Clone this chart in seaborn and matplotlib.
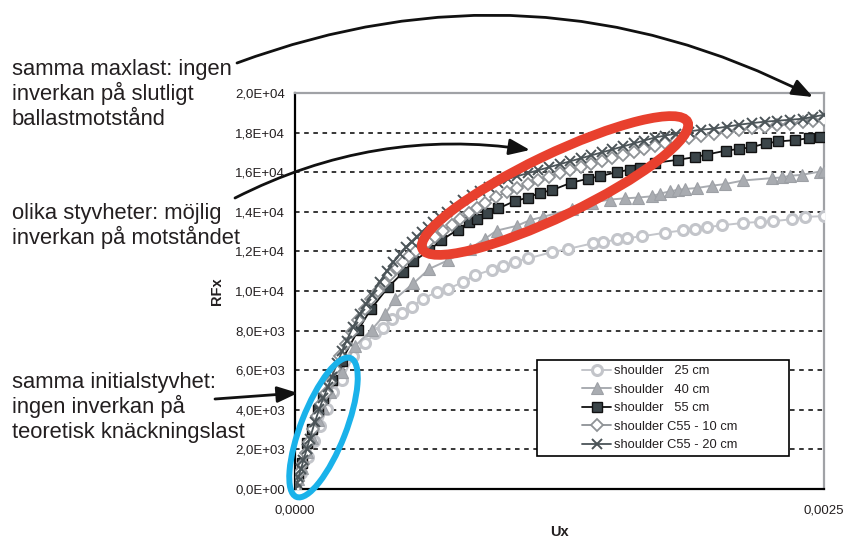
import numpy as np
import pandas as pd
import matplotlib
matplotlib.use("Agg")
import matplotlib.pyplot as plt
import seaborn as sns
from matplotlib.patches import Ellipse, Rectangle, FancyArrowPatch
from matplotlib.ticker import FuncFormatter, MultipleLocator, FixedLocator

# ---------------- data (Ux in units of 1e-4, RFx) ----------------
ux25_e4 = [0, 0.3, 0.6, 0.9, 1.2, 1.5, 1.81, 2.21, 2.76, 3.30, 3.78, 4.17, 4.57, 5.04, 5.51,
           6.03, 6.71, 7.25, 7.96, 8.51, 9.30, 9.85, 10.40, 11.03, 12.13, 12.92, 14.10, 14.57,
           15.20, 15.68, 16.38, 17.49, 18.35, 18.90, 19.46, 20.17, 21.19, 21.98, 22.60, 23.47,
           24.10, 25.0]
rf25 = [0, 800, 1600, 2400, 3200, 4050, 4917, 5500, 6732, 7350, 7860, 8120, 8570, 8910, 9170,
        9612, 9949, 10119, 10460, 10800, 11073, 11277, 11481, 11651, 11957, 12128, 12417, 12468,
        12604, 12672, 12757, 12945, 13064, 13149, 13217, 13319, 13438, 13489, 13523, 13626,
        13745, 13779]

ux40_e4 = [0, 0.158, 0.315, 0.551, 0.788, 1.10, 1.34, 1.65, 2.21, 2.84, 3.62, 4.25, 4.73, 5.59,
           6.35, 7.25, 8.27, 8.98, 9.53, 10.48, 11.11, 11.74, 13.08, 14.02, 14.89, 15.60, 16.23,
           16.86, 17.25, 17.72, 18.12, 18.43, 18.98, 19.69, 20.32, 21.19, 22.53, 23.00, 23.39,
           23.95, 24.81, 25.0]
rf40 = [0, 500, 1050, 1850, 2600, 3500, 4100, 4917, 5917, 7220, 8035, 8817, 9600, 10380, 11120,
        11560, 12135, 12640, 13050, 13290, 13580, 13750, 14133, 14460, 14620, 14680, 14720,
        14783, 14917, 15033, 15117, 15150, 15200, 15317, 15400, 15583, 15700, 15733, 15817,
        15867, 16033, 16050]

ux55_e4 = [0, 0.158, 0.315, 0.551, 0.788, 1.10, 1.34, 1.75, 2.21, 2.99, 3.58, 4.41, 5.12, 5.59,
           6.35, 6.90, 7.69, 8.24, 8.59, 9.09, 9.61, 10.40, 11.03, 11.58, 12.13, 13.04, 13.83,
           14.41, 15.20, 15.83, 16.30, 17.01, 18.12, 18.90, 19.46, 20.37, 21.00, 21.54, 22.26,
           22.84, 23.63, 24.31, 24.81]
rf55 = [0, 650, 1333, 2300, 3043, 4000, 4583, 5500, 6488, 8033, 9078, 10200, 10955, 11495,
        12050, 12556, 13095, 13483, 13652, 13950, 14170, 14550, 14717, 14967, 15083, 15467,
        15667, 15800, 16000, 16133, 16233, 16467, 16633, 16760, 16893, 17090, 17175, 17256,
        17455, 17554, 17620, 17719, 17800]

uxc10_e4 = [0, 0.12, 0.24, 0.36, 0.50, 0.65, 0.85, 1.05, 1.25, 1.45, 1.65, 1.90, 2.15, 2.40,
            2.70, 3.00, 3.30, 3.60, 3.90, 4.20, 4.50, 4.80, 5.10, 5.40, 5.70, 6.00, 6.30, 6.60,
            7.00, 7.40, 7.80, 8.20, 8.60, 9.00, 9.50, 10.0, 10.5, 11.0, 11.5, 12.0, 12.5, 13.0,
            13.5, 14.0, 14.5, 15.0, 15.5, 16.0, 16.5, 17.0, 17.5, 18.0, 18.6, 19.2, 19.8, 20.4,
            21.0, 21.6, 22.2, 22.8, 23.4, 24.0, 24.5, 25.0]
rfc10 = [0, 420, 850, 1280, 1800, 2350, 3050, 3700, 4300, 4850, 5400, 6050, 6700, 7300,
         7950, 8550, 9100, 9600, 10000, 10400, 10800, 11150, 11450, 11750, 12000, 12250, 12500,
         12750, 13050, 13350, 13650, 13950, 14200, 14450, 14750, 15000, 15200, 15400, 15600,
         15780, 15950, 16100, 16250, 16400, 16550, 16700, 16850, 17000, 17150, 17300, 17450,
         17600, 17720, 17850, 17950, 18050, 18150, 18230, 18300, 18380, 18450, 18520, 18580,
         18650]

uxc20_e4 = [0, 0.08, 0.16, 0.28, 0.40, 0.55, 0.70, 0.945, 1.15, 1.34, 1.55, 1.73, 2.00, 2.22,
            2.44, 2.75, 3.07, 3.35, 3.62, 4.00, 4.33, 4.65, 4.96, 5.25, 5.51, 5.75, 6.00, 6.27,
            6.54, 6.85, 7.17, 7.55, 7.95, 8.35, 8.74, 9.15, 9.60, 10.05, 10.5, 11.0, 11.5, 12.0,
            12.5, 13.0, 13.5, 14.0, 14.5, 15.0, 15.5, 16.0, 16.5, 17.0, 17.5, 18.0, 18.6, 19.2,
            19.8, 20.4, 21.0, 21.6, 22.2, 22.8, 23.4, 24.0, 24.5, 25.0]
rfc20 = [0, 280, 600, 1000, 1450, 2000, 2550, 3400, 4050, 4600, 5150, 5650, 6350, 6950, 7500,
         8200, 8850, 9350, 9800, 10450, 11000, 11450, 11850, 12200, 12500, 12750, 13000, 13250,
         13500, 13750, 14000, 14300, 14600, 14850, 15050, 15250, 15450, 15650, 15800, 15950,
         16100, 16250, 16400, 16550, 16700, 16850, 17000, 17150, 17300, 17450, 17600, 17750,
         17850, 17950, 18050, 18150, 18200, 18300, 18400, 18480, 18550, 18600, 18650, 18700,
         18800, 18900]

labels = ["shoulder   25 cm", "shoulder   40 cm", "shoulder   55 cm",
          "shoulder C55 - 10 cm", "shoulder C55 - 20 cm"]
xticks = [0.0, 0.0025]

note_max = ["samma maxlast: ingen", "inverkan på slutligt", "ballastmotstånd"]
note_stiff = ["olika styvheter: möjlig", "inverkan på motståndet"]
note_init = ["samma initialstyvhet:", "ingen inverkan på", "teoretisk knäckningslast"]

# ---------------- style ----------------
sns.set_style("white")
plt.rcParams["font.family"] = ["Liberation Sans", "DejaVu Sans"]

W, H = 847, 544
fig = plt.figure(figsize=(W / 100, H / 100), dpi=100)
ax = fig.add_axes([295 / W, 1 - 489 / H, (824 - 295) / W, (489 - 93) / H])

series = [
    (ux25_e4, rf25, dict(color="#c3c5ca", marker="o", markersize=7.2, markerfacecolor="white",
                         markeredgecolor="#c3c5ca", markeredgewidth=2.2, linewidth=1.4)),
    (ux40_e4, rf40, dict(color="#a9acb1", marker="^", markersize=8.5, markerfacecolor="#a9acb1",
                         markeredgecolor="#9da0a5", markeredgewidth=0.8, linewidth=1.4)),
    (ux55_e4, rf55, dict(color="#111111", marker="s", markersize=7.3, markerfacecolor="#3b4549",
                         markeredgecolor="#111111", markeredgewidth=1.0, linewidth=1.3)),
    (uxc10_e4, rfc10, dict(color="#8e9296", marker="D", markersize=5.8, markerfacecolor="white",
                           markeredgecolor="#8e9296", markeredgewidth=1.3, linewidth=1.3)),
    (uxc20_e4, rfc20, dict(color="#4b5458", marker="x", markersize=7.0, markerfacecolor="#4b5458",
                           markeredgecolor="#4b5458", markeredgewidth=1.4, linewidth=1.3)),
]

for (xs, ys, kw), lab in zip(series, labels):
    df = pd.DataFrame({"Ux": np.array(xs) * 1e-4, "RFx": ys})
    sns.lineplot(data=df, x="Ux", y="RFx", ax=ax, sort=False, estimator=None,
                 label=lab, zorder=3, **kw)

ax.set_xlim(0, 0.0025)
ax.set_ylim(0, 20000)
ax.xaxis.set_major_locator(FixedLocator(xticks))
ax.yaxis.set_major_locator(MultipleLocator(2000))
ax.xaxis.set_major_formatter(FuncFormatter(lambda v, p: f"{v:.4f}".replace(".", ",")))
ax.yaxis.set_major_formatter(FuncFormatter(lambda v, p: f"{v:.1E}".replace(".", ",")))
ax.tick_params(axis="both", direction="out", length=5, width=1.2, color="black",
               labelsize=9.5, labelcolor="#231f20", pad=2)
ax.tick_params(axis="x", pad=6)

for v in np.arange(2000, 20000, 2000):
    ax.axhline(v, color="black", lw=1.1, ls=(0, (3, 3)), zorder=1)

for s in ["left", "bottom"]:
    ax.spines[s].set_color("black")
    ax.spines[s].set_linewidth(1.6)
for s in ["top", "right"]:
    ax.spines[s].set_color("#a0a2a6")
    ax.spines[s].set_linewidth(1.6)
    ax.spines[s].set_visible(True)

ax.set_xlabel("Ux", fontsize=10.5, fontweight="bold", labelpad=6, color="#231f20")
ax.set_ylabel("RFx", fontsize=10.5, fontweight="bold", labelpad=8, color="#231f20")

# legend box + legend
box = Rectangle((537 / W, 1 - 456 / H), 252 / W, 96 / H, transform=fig.transFigure,
                facecolor="white", edgecolor="black", lw=1.2, zorder=4)
ax.add_patch(box)
box.set_clip_on(False)
leg = ax.legend(loc="center", bbox_to_anchor=(660 / W, 1 - 408 / H),
                bbox_transform=fig.transFigure, frameon=False, fontsize=9.3,
                handlelength=2.2, handletextpad=0.25, labelspacing=0.5, borderpad=0)
leg.set_zorder(5)
for t in leg.get_texts():
    t.set_color("#231f20")

# ---------------- overlay annotations ----------------
ov = fig.add_axes([0, 0, 1, 1], facecolor="none")
ov.set_xlim(0, W)
ov.set_ylim(H, 0)
ov.axis("off")

ov.add_patch(Ellipse((555, 185.5), 2 * 147, 2 * 31, angle=-25.6, fill=False,
                     edgecolor="#e8402e", lw=7))
ov.add_patch(Ellipse((323.5, 427.5), 2 * 74.5, 2 * 22.5, angle=-68.7, fill=False,
                     edgecolor="#1ab2ea", lw=4.3))

tc = "#231f20"
fs = 15.8
for lines, base in ((note_max, 75), (note_stiff, 219), (note_init, 388)):
    for i, line in enumerate(lines):
        ov.text(12, base + 25 * i, line, fontsize=fs, va="baseline", ha="left", color=tc)

arrow_kw = dict(arrowstyle="-|>,head_length=0.9,head_width=0.35", mutation_scale=14,
                color="#111111", lw=2, shrinkA=0, shrinkB=0)
ov.add_patch(FancyArrowPatch((237, 63), (813, 97), connectionstyle="arc3,rad=-0.22", **arrow_kw))
ov.add_patch(FancyArrowPatch((235, 198), (530, 150), connectionstyle="arc3,rad=-0.16", **arrow_kw))
ov.add_patch(FancyArrowPatch((215, 399), (298, 393), connectionstyle="arc3,rad=0", **arrow_kw))

fig.savefig("out.png", dpi=100)
